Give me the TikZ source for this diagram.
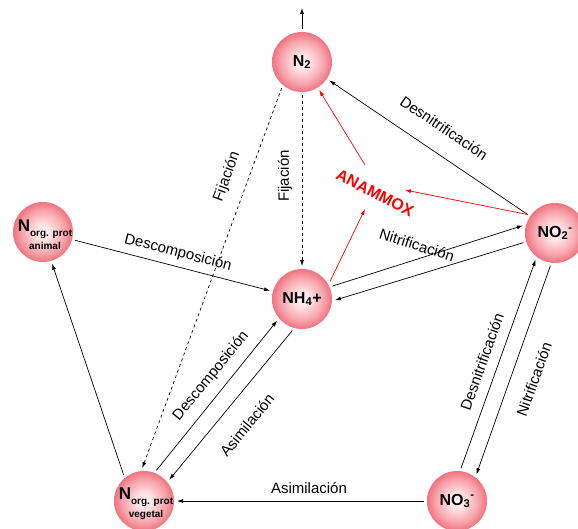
\documentclass[tikz,border=0pt]{standalone}
\usepackage{fontspec}
\setmainfont{Liberation Sans}
\usetikzlibrary{arrows.meta}
\usetikzlibrary{calc}

\pgfdeclareradialshading{ballshade}{\pgfpoint{0bp}{0bp}}{rgb(0bp)=(1,0.98,0.98); rgb(7bp)=(1,0.88,0.89); rgb(18bp)=(0.97,0.64,0.67); rgb(25bp)=(0.94,0.45,0.50); rgb(50bp)=(0.94,0.45,0.50)}

\newcommand{\norgtext}[1]{{\fontsize{17}{18}\selectfont N}\raisebox{-5pt}{\fontsize{10}{12}\selectfont org. prot}\\[3pt]{\fontsize{10}{12}\selectfont #1}}

\tikzset{
  ball/.style={circle, minimum size=60pt, inner sep=0pt, outer sep=3pt, shading=ballshade},
  spec/.style={font=\fontsize{16}{18}\selectfont\bfseries},
  orgtxt/.style={align=center, font=\bfseries, inner sep=0pt},
  lbl/.style={font=\fontsize{15}{17}\selectfont, inner sep=1pt}
}

\begin{document}
\begin{tikzpicture}[x=1pt,y=-1pt,>={Latex[length=6pt,width=4pt]},line width=0.7pt]
            \useasboundingbox (0,0) rectangle (578,529);

            \node[ball,spec] (n2) at (302,62) {N\textsubscript{2}};
            \node[ball,spec] (nh4) at (302,299) {NH\textsubscript{4}+};
            \node[ball,spec] (no2) at (555,233) {NO\textsubscript{2}\textsuperscript{-}};
            \node[ball,spec] (no3) at (457,501) {NO\textsubscript{3}\textsuperscript{-}};
            \node[ball] (anim) at (43,232) {};
            \node[orgtxt] (animt) at (45,235) {\norgtext{animal}};
            \node[ball] (veg) at (144,501) {};
            \node[orgtxt] (vegt) at (146,504) {\norgtext{vegetal}};

            \coordinate (top) at (302,8);
            \coordinate (amxa) at (405,190);
            \coordinate (amxb) at (365,209);
            \coordinate (amxc) at (365,165);

            \draw[->] (n2) -- (top);
            \draw[->] (no2) -- (n2);
            \draw[dashed,->] (n2) -- (nh4);
            \draw[dashed,->] (n2.-128) -- (veg.93);
            \draw[->] (anim) -- (nh4);
            \draw[->] (nh4.23) -- (no2.167);
            \draw[->] (no2.197) -- (nh4.-2);
            \draw[->] (veg.68) -- (nh4.221);
            \draw[->] (nh4.253) -- (veg.40);
            \draw[->] (veg.128) -- (anim.-74);
            \draw[->] (no3) -- (veg);
            \draw[->] (no3.83) -- (no2.234);
            \draw[->] (no2.262) -- (no3.54);

            \draw[red,->] (no2.146) -- (amxa);
            \draw[red,->] (nh4.32) -- (amxb);
            \draw[red,->] (amxc) -- (n2);

            \node[lbl,rotate=-34] (desn1) at (444,128) {Desnitrificación};
            \node[lbl,rotate=70] (fij1) at (227,177) {Fijación};
            \node[lbl,rotate=90] (fij2) at (285,176) {Fijación};
            \node[lbl,rotate=-14.5] (desc1) at (178,253) {Descomposición};
            \node[lbl,rotate=-17.6] (nitr1) at (417,245) {Nitrificación};
            \node[lbl,rotate=50.7] (desc2) at (211,376) {Descomposición};
            \node[lbl,rotate=50.7] (asim1) at (247,425) {Asimilación};
            \node[lbl] (asim2) at (309,488) {Asimilación};
            \node[lbl,rotate=70.3] (desn2) at (482,362) {Desnitrificación};
            \node[lbl,rotate=70.3] (nitr2) at (534,379) {Nitrificación};
            \node[red,rotate=-27,font=\fontsize{16}{18}\selectfont\bfseries] (anammox) at (375,193) {ANAMMOX};
        \end{tikzpicture}
\end{document}
